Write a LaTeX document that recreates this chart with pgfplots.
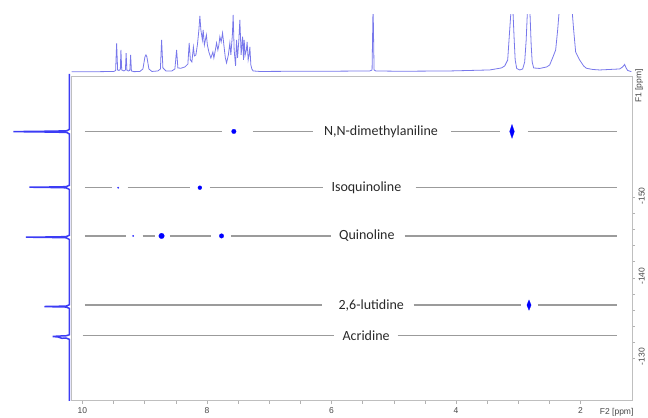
\documentclass[border=0pt]{standalone}
\usepackage{fontspec}
\setmainfont{Carlito}
\newfontfamily\axfont{Liberation Sans}
\usepackage{pgfplots}
\pgfplotsset{compat=1.18}
\definecolor{seggray}{RGB}{155,155,155}
\definecolor{projblue}{RGB}{60,60,245}
\definecolor{specblue}{RGB}{120,120,235}
\definecolor{labgray}{RGB}{40,40,40}
\definecolor{ticktext}{RGB}{70,70,70}
\definecolor{peakblue}{RGB}{0,0,255}
\tikzset{
  lab/.style={anchor=east, inner sep=0pt, text=labgray, font=\fontsize{14}{16}\selectfont},
  seg/.style={seggray, line width=1.2pt},
}

\begin{document}
\begin{tikzpicture}
\path (0,0) rectangle (648pt,418pt);

% top 1D projection (pixel-like units)
\begin{axis}[
  at={(71.7pt,342pt)}, anchor=south west, scale only axis,
  width=560.8pt, height=61pt,
  xmin=71.7, xmax=632.5, ymin=15, ymax=76, y dir=reverse,
  hide axis, clip=true,
]
\addplot[specblue, line width=0.8pt] coordinates {
(71.7,71.7)(100,71.7)(114,71.5)(115.7,70.5)(116.7,43.3)(117.7,70)(119,70.5)
(120.4,69.5)(121,50)(121.8,70)(124,71)(125.5,70)(126.2,53.3)(127,70.5)(128.5,71)
(129.9,70.5)(130.7,55)(131.5,71)(134,71.7)(140,71.5)(143,69)(145,57)(146,55)
(147,57)(149,69)(152,71.5)(158,71)(160.5,69)(161.7,40)(163,68)(166,71)(172,71)
(175,69)(176.7,50)(178,68)(181,68.3)(185,67)(188,64)(189.3,43)(190.5,60)(192,62)
(193.5,47)(194.5,56)(196,55)(197.5,45)(199,30)(200,16)(201,30)(202.5,40)(203.3,30)
(204.5,45)(205.5,40)(206.5,35)(207.5,45)(209,52)(211,58)(213,52)(214,58)(215.5,50)
(216.7,43)(218,50)(219,45)(220,36.7)(221.3,42)(222.7,33)(224,45)(225.5,58)(226.7,63)
(228.5,55)(230,43)(231,55)(232.5,35)(233.3,15)(234.3,50)(235.7,66)(236.7,40)
(237.7,58)(239,40)(240,20)(241.3,55)(242.7,36.7)(243.7,60)(244.3,40)(245.3,55)
(246.5,50)(247.3,42)(248.3,60)(249.2,55)(250,47)(251,65)(252,69)(253.3,71)
(260,71.5)(300,71.3)(340,71.2)(370,71)(372.3,70)(373.3,5)(374.3,70)(376,71)
(400,71.3)(450,71)(490,70)(501.7,68)(505,66)(508,60)(510,30)(511.7,5)(513,5)
(514.5,40)(515.5,60)(517,68.5)(520,70)(523,69)(525,62)(526.5,40)(528,5)(530,5)
(531.5,45)(532.5,62)(534,68)(540,68.5)(547,67)(550,65)(553.3,57)(556,50)(558,30)
(560,5)(572,5)(574,30)(576,52)(578,56)(580,60)(584,66)(586.7,68.3)(593,69.5)
(600,70)(610,69.5)(620,69)(623,67)(625,64.5)(626.5,68)(628,70.5)(631.7,71.7)};
\end{axis}

% left 1D projection
\begin{axis}[
  at={(0pt,17pt)}, anchor=south west, scale only axis,
  width=71.7pt, height=325pt,
  xmin=0, xmax=71.7, ymin=76, ymax=401, y dir=reverse,
  hide axis, clip=false,
]
\addplot[projblue, line width=1.5pt] coordinates {
(69.3,74)(69.3,129.5)(67,130.8)(55,131.2)(13.3,131.7)(55,132.2)(67,132.6)(69.3,134)
(69.3,185.5)(66,186.8)(50,187.1)(29.3,187.3)(50,187.6)(66,187.9)(69.3,189.5)
(69.3,235.5)(66,236.8)(50,237.1)(26,237.3)(50,237.6)(66,237.9)(69.3,239.5)
(69.3,305)(66,306.3)(55,306.5)(44.3,306.7)(55,307)(66,307.2)(69.3,308.5)
(69.3,335)(66,336)(58,336.3)(52.7,336.7)(58,337.2)(62,338.5)(66,338.2)(69.3,339.5)
(69.3,401)};
\end{axis}

% main 2D plot
\begin{axis}[
  at={(71.7pt,17pt)}, anchor=south west, scale only axis,
  width=560.8pt, height=325pt,
  x dir=reverse, y dir=reverse,
  xmin=1.172, xmax=10.173, ymin=-165.1, ymax=-124.7,
  xtick={2,4,6,8,10}, minor x tick num=3,
  ytick={-150,-140,-130}, yticklabels={-150,-140,-130}, minor y tick num=4,
  xtick pos=left, ytick pos=right, yticklabel pos=right,
  tick align=outside, major tick length=3pt, minor tick length=3pt,
  axis line style={draw=gray!50, line width=0.6pt},
  tick style={gray!60, line width=0.5pt},
  ticklabel style={font=\axfont\fontsize{8.5}{9}\selectfont, text=ticktext},
  /pgf/number format/assume math mode=true,
  yticklabel style={rotate=90, anchor=north, xshift=1.5pt},
  unbounded coords=jump, clip=false,
]
% N,N-dimethylaniline
\addplot[seg] coordinates {(9.96,-158.2)(7.766,-158.2)(7.5,nan)(7.263,-158.2)(6.30,-158.2)
  (5,nan)(4.074,-158.2)(3.299,-158.2)(3.1,nan)(2.849,-158.2)(1.421,-158.2)};
% Isoquinoline
\addplot[seg] coordinates {(9.96,-151.2)(9.531,-151.2)(9.4,nan)(9.274,-151.2)(8.274,-151.2)
  (8.1,nan)(7.953,-151.2)(6.135,-151.2)(5.5,nan)(4.647,-151.2)(1.421,-151.2)};
% Quinoline
\addplot[seg] coordinates {(9.96,-145.2)(9.302,-145.2)(9.2,nan)(9.034,-145.2)(8.836,-145.2)
  (8.7,nan)(8.596,-145.2)(7.942,-145.2)(7.8,nan)(7.616,-145.2)(6.0,-145.2)
  (5.5,nan)(4.824,-145.2)(1.421,-145.2)};
% 2,6-lutidine
\addplot[seg] coordinates {(9.96,-136.6)(6.15,-136.6)(5.5,nan)(4.68,-136.6)(2.95,-136.6)
  (2.8,nan)(2.684,-136.6)(1.421,-136.6)};
% Acridine
\addplot[seg] coordinates {(9.997,-132.8)(5.963,-132.8)(5.5,nan)(4.936,-132.8)(1.421,-132.8)};

% cross peaks
\addplot[only marks, mark=*, mark size=2.3pt, mark options={fill=peakblue, draw=peakblue, line width=0.2pt}]
  coordinates {(7.568,-158.2)(7.766,-145.2)};
\addplot[only marks, mark=*, mark size=2.0pt, mark options={fill=peakblue, draw=peakblue, line width=0.2pt}]
  coordinates {(8.114,-151.2)};
\addplot[only marks, mark=*, mark size=2.8pt, mark options={fill=peakblue, draw=peakblue, line width=0.2pt}]
  coordinates {(8.729,-145.2)};
\addplot[only marks, mark=*, mark size=0.8pt, mark options={fill=peakblue!80, draw=peakblue!80, line width=0.2pt}]
  coordinates {(9.425,-151.2)(9.185,-145.2)};
\addplot[only marks, mark=diamond*, mark size=7pt, mark options={xscale=0.45, fill=peakblue, draw=peakblue, line width=0.2pt}]
  coordinates {(3.101,-158.2)};
\addplot[only marks, mark=diamond*, mark size=5.2pt, mark options={xscale=0.55, fill=peakblue, draw=peakblue, line width=0.2pt}]
  coordinates {(2.828,-136.6)};

\node[lab] at (axis cs:4.289,-158.2) {N,N-dimethylaniline};
\node[lab] at (axis cs:4.876,-151.2) {Isoquinoline};
\node[lab] at (axis cs:4.984,-145.2) {Quinoline};
\node[lab] at (axis cs:4.835,-136.6) {2,6-lutidine};
\node[lab] at (axis cs:5.064,-132.8) {Acridine};

\node[anchor=north east, inner sep=0pt, text=ticktext, font=\axfont\fontsize{8.5}{9}\selectfont]
  at (axis cs:1.172,-124.7) [xshift=1.5pt, yshift=-7pt] {F2 [ppm]};
\node[rotate=90, anchor=north east, inner sep=0pt, text=ticktext, font=\axfont\fontsize{8.5}{9}\selectfont]
  at (axis cs:1.172,-165.1) [xshift=7pt, yshift=-3pt] {F1 [ppm]};
\end{axis}
\end{tikzpicture}
\end{document}
